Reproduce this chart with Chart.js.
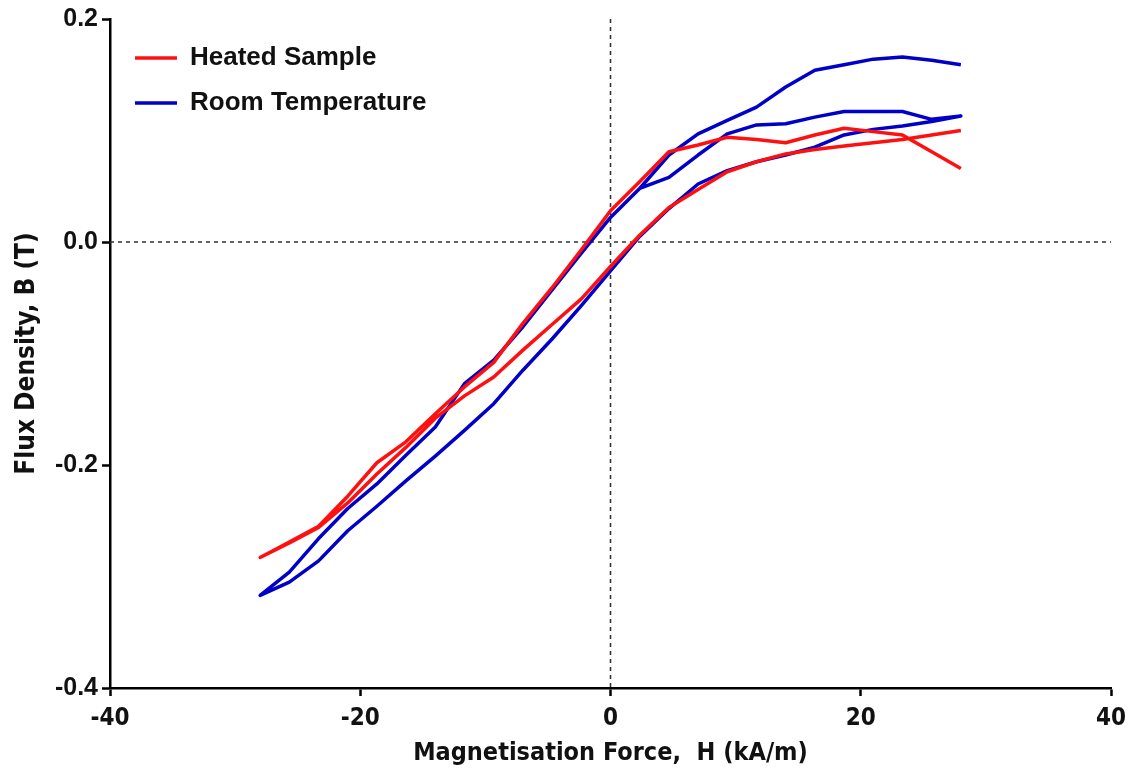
<!DOCTYPE html>
<html>
<head>
<meta charset="utf-8">
<script src="https://cdn.jsdelivr.net/npm/chart.js@4.4.0/dist/chart.umd.min.js"></script>
<style>
  html, body { margin: 0; padding: 0; background: #fff; }
  #wrap { width: 1131px; height: 774px; }
</style>
</head>
<body>
<div id="wrap"><canvas id="grafica"></canvas></div>
<script>
// Значения H (kA/m), общие для всех ветвей
const hValues = [-28, -25.67, -23.33, -21, -18.67, -16.33, -14, -11.67, -9.33, -7, -4.67, -2.33,
  0, 2.33, 4.67, 7, 9.33, 11.67, 14, 16.33, 18.67, 21, 23.33, 25.67, 28];

// Heated Sample: верхняя (обратная) и нижняя (прямая) ветви, B (T)
const heatedDown = [-0.283, -0.269, -0.255, -0.228, -0.198, -0.179, -0.154, -0.130, -0.108, -0.073, -0.041, -0.007,
  0.028, 0.054, 0.081, 0.087, 0.094, 0.092, 0.089, 0.096, 0.102, 0.099, 0.096, 0.081, 0.066];
const heatedUp = [-0.283, -0.270, -0.256, -0.234, -0.208, -0.184, -0.158, -0.138, -0.121, -0.097, -0.074, -0.051,
  -0.022, 0.006, 0.031, 0.047, 0.063, 0.072, 0.079, 0.083, 0.086, 0.089, 0.092, 0.096, 0.100];

// Room Temperature: верхняя ветвь, нижняя ветвь и короткий возврат (от 2.33 до 28)
const roomDown = [-0.317, -0.296, -0.266, -0.239, -0.217, -0.191, -0.166, -0.127, -0.106, -0.076, -0.043, -0.010,
  0.022, 0.048, 0.078, 0.097, 0.109, 0.121, 0.139, 0.154, 0.159, 0.164, 0.166, 0.163, 0.159];
const roomUp = [-0.317, -0.305, -0.286, -0.259, -0.237, -0.214, -0.192, -0.169, -0.145, -0.115, -0.087, -0.057,
  -0.026, 0.005, 0.030, 0.052, 0.064, 0.072, 0.078, 0.085, 0.096, 0.101, 0.104, 0.108, 0.113];
const roomReturn = [0.048, 0.058, 0.078, 0.097, 0.105, 0.106, 0.112, 0.117, 0.117, 0.117, 0.110, 0.113];

// Подписи делений
const xTicks = [-40, -20, 0, 20, 40];
const yTicks = [-0.4, -0.2, 0, 0.2];

// Точки в порядке обхода петли
const toPoints = (hs, bs) => hs.map((h, i) => ({ x: h, y: bs[i] }));
const heatedPath = [
  ...toPoints(hValues, heatedDown).reverse(),
  ...toPoints(hValues, heatedUp)
];
const roomPath = [
  ...toPoints(hValues, roomDown).reverse(),
  ...toPoints(hValues, roomUp),
  ...toPoints(hValues.slice(13), roomReturn).reverse()
];

const boldSans = "'Liberation Sans', Arial, sans-serif";
const narrow = "'Liberation Sans Narrow', 'DejaVu Sans Condensed', 'Liberation Sans', sans-serif";

// Пунктирные линии через ноль
const zeroLines = {
  id: 'zeroLines',
  beforeDatasetsDraw(chart) {
    const { ctx, chartArea, scales } = chart;
    const x0 = scales.x.getPixelForValue(0);
    const y0 = scales.y.getPixelForValue(0);
    ctx.save();
    ctx.strokeStyle = '#333';
    ctx.lineWidth = 1.6;
    ctx.setLineDash([4, 4]);
    ctx.beginPath();
    ctx.moveTo(x0, chartArea.top);
    ctx.lineTo(x0, chartArea.bottom);
    ctx.moveTo(chartArea.left, y0);
    ctx.lineTo(chartArea.right, y0);
    ctx.stroke();
    ctx.restore();
  }
};

// Сдвиг легенды внутри области графика
const legendShift = {
  id: 'legendShift',
  afterLayout(chart) {
    chart.legend.left += 6;
    chart.legend.top += 26;
  }
};

const grafica = document.getElementById('grafica');

const myChart = new Chart(grafica, {
  type: 'scatter',
  data: {
    datasets: [
      {
        label: 'Heated Sample',
        data: heatedPath,
        borderColor: '#ff1010',
        backgroundColor: '#ff1010',
        borderWidth: 3.5,
        borderJoinStyle: 'round',
        showLine: true,
        pointRadius: 0,
        tension: 0
      },
      {
        label: 'Room Temperature',
        data: roomPath,
        borderColor: '#0000c8',
        backgroundColor: '#0000c8',
        borderWidth: 3.5,
        borderJoinStyle: 'round',
        showLine: true,
        pointRadius: 0,
        tension: 0
      }
    ]
  },
  options: {
    responsive: true,
    maintainAspectRatio: false,
    animation: false,
    layout: { padding: { top: 18, right: 20, left: 0, bottom: 0 } },
    plugins: {
      tooltip: { enabled: false },
      legend: {
        position: 'chartArea',
        align: 'start',
        labels: {
          usePointStyle: true,
          pointStyle: 'line',
          pointStyleWidth: 42,
          padding: 19,
          color: '#111',
          font: { family: boldSans, size: 26, weight: 'bold' }
        }
      }
    },
    scales: {
      x: {
        type: 'linear',
        min: -40,
        max: 40,
        afterFit: (scale) => {
          scale.height = 86;
          scale.paddingRight = 0;
        },
        afterBuildTicks: (scale) => { scale.ticks = xTicks.map(v => ({ value: v })); },
        grid: { drawOnChartArea: false, drawTicks: true, tickLength: 8, tickWidth: 2.5, tickColor: '#000' },
        border: { display: true, color: '#000', width: 2.5 },
        ticks: {
          padding: 8,
          color: '#111',
          font: { family: narrow, size: 24, weight: 'bold' },
          maxRotation: 0
        },
        title: {
          display: true,
          text: 'Magnetisation Force,  H (kA/m)',
          color: '#111',
          font: { family: narrow, size: 25, weight: 'bold' },
          padding: { top: 0, bottom: 6 }
        }
      },
      y: {
        type: 'linear',
        min: -0.4,
        max: 0.2,
        afterFit: (scale) => { scale.width = 110; },
        afterBuildTicks: (scale) => { scale.ticks = yTicks.map(v => ({ value: v })); },
        grid: { drawOnChartArea: false, drawTicks: true, tickLength: 8, tickWidth: 2.5, tickColor: '#000' },
        border: { display: true, color: '#000', width: 2.5 },
        ticks: {
          padding: 4,
          color: '#111',
          font: { family: boldSans, size: 25, weight: 'bold' },
          callback: (v) => v.toFixed(1)
        },
        title: {
          display: true,
          text: 'Flux Density, B (T)',
          color: '#111',
          font: { family: narrow, size: 26, weight: 'bold' },
          padding: { top: 12, bottom: 0 }
        }
      }
    }
  },
  plugins: [zeroLines, legendShift]
});
</script>
</body>
</html>
